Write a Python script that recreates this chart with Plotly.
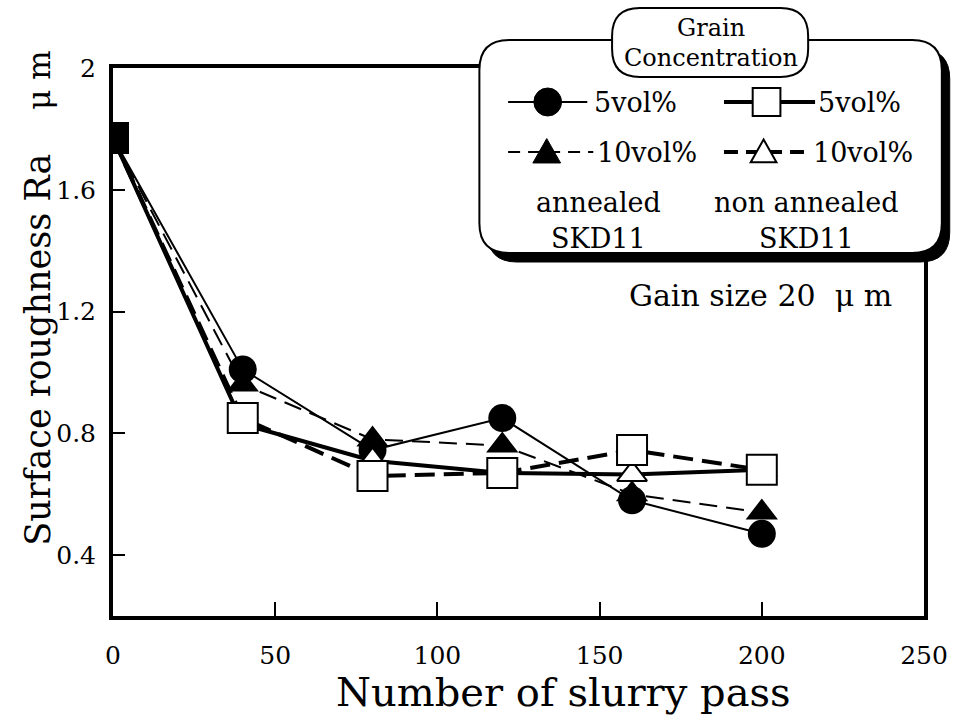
import plotly.graph_objects as go

# ---- data -----------------------------------------------------------------
passes = [0, 40, 80, 120, 160, 200]

annealed_5 = [1.77, 1.01, 0.745, 0.85, 0.58, 0.47]       # filled circle
annealed_10 = [1.77, 0.96, 0.78, 0.76, 0.60, 0.54]       # filled triangle
non_annealed_5 = [1.77, 0.85, 0.66, 0.67, 0.745, 0.68]   # open square
non_annealed_10 = [1.77, 0.83, 0.71, 0.67, 0.665, 0.68]  # open triangle

x_ticks = [0, 50, 100, 150, 200, 250]
x_tick_labels = ["0", "50", "100", "150", "200", "250"]
y_ticks = [0.4, 0.8, 1.2, 1.6, 2.0]
y_tick_labels = ["0.4", "0.8", "1.2", "1.6", "2"]

# ---- page geometry --------------------------------------------------------
W, H = 960, 728
L, R, T, B = 113, 28, 68, 112
PW = W - L - R
PH = H - T - B
FONT = "DejaVu Serif"


def px(x):
    """pixel x -> paper x"""
    return (x - L) / PW


def py(y):
    """pixel y (from top) -> paper y"""
    return (H - B - y) / PH


def rounded_rect(x0, y0, x1, y1, r):
    parts = [
        f"M{px(x0 + r)},{py(y0)}",
        f"L{px(x1 - r)},{py(y0)}",
        f"Q{px(x1)},{py(y0)} {px(x1)},{py(y0 + r)}",
        f"L{px(x1)},{py(y1 - r)}",
        f"Q{px(x1)},{py(y1)} {px(x1 - r)},{py(y1)}",
        f"L{px(x0 + r)},{py(y1)}",
        f"Q{px(x0)},{py(y1)} {px(x0)},{py(y1 - r)}",
        f"L{px(x0)},{py(y0 + r)}",
        f"Q{px(x0)},{py(y0)} {px(x0 + r)},{py(y0)}",
        "Z",
    ]
    return " ".join(parts)


def triangle(cx, cy, s):
    h = s * 0.87
    return (f"M{px(cx)},{py(cy - h * 0.55)} L{px(cx + s / 2)},{py(cy + h * 0.45)} "
            f"L{px(cx - s / 2)},{py(cy + h * 0.45)} Z")


fig = go.Figure()

# thin lines: annealed SKD11
fig.add_trace(go.Scatter(
    x=passes, y=annealed_5, mode="lines+markers",
    line=dict(color="black", width=2),
    marker=dict(symbol="circle", size=28, color="black"),
))
fig.add_trace(go.Scatter(
    x=passes, y=annealed_10, mode="lines+markers",
    line=dict(color="black", width=2, dash="18px,9px"),
    marker=dict(symbol="triangle-up", size=28, color="black"),
))
# thick lines: non annealed SKD11
fig.add_trace(go.Scatter(
    x=passes, y=non_annealed_10, mode="lines+markers",
    line=dict(color="black", width=4),
    marker=dict(symbol="triangle-up", size=26, color="white",
                line=dict(color="black", width=2)),
))
fig.add_trace(go.Scatter(
    x=passes, y=non_annealed_5, mode="lines+markers",
    line=dict(color="black", width=4, dash="20px,9px"),
    marker=dict(symbol="square", size=30,
                color=["black" if p == 0 else "white" for p in passes],
                line=dict(color="black", width=2)),
))

# ---- legend panel ---------------------------------------------------------
shapes = []
shapes.append(dict(type="path", xref="paper", yref="paper", layer="above",
                   path=rounded_rect(491, 49, 958, 262, 30),
                   fillcolor="black", line=dict(color="black", width=1)))
shapes.append(dict(type="path", xref="paper", yref="paper", layer="above",
                   path=rounded_rect(483, 40, 950, 253, 30),
                   fillcolor="white", line=dict(color="black", width=2)))
shapes.append(dict(type="path", xref="paper", yref="paper", layer="above",
                   path=rounded_rect(617, 8, 815, 77, 28),
                   fillcolor="white", line=dict(color="black", width=2)))


def key_line(x0, x1, y, width, dash="solid"):
    shapes.append(dict(type="line", xref="paper", yref="paper", layer="above",
                       x0=px(x0), x1=px(x1), y0=py(y), y1=py(y),
                       line=dict(color="black", width=width, dash=dash)))


# row 1
key_line(512, 592, 102, 2)
shapes.append(dict(type="circle", xref="paper", yref="paper", layer="above",
                   x0=px(538), x1=px(566), y0=py(116), y1=py(88),
                   fillcolor="black", line=dict(color="black", width=1)))
key_line(730, 822, 102, 4)
shapes.append(dict(type="rect", xref="paper", yref="paper", layer="above",
                   x0=px(759), x1=px(787), y0=py(116), y1=py(88),
                   fillcolor="white", line=dict(color="black", width=2)))
# row 2
key_line(512, 598, 152, 2, "12px,8px")
shapes.append(dict(type="path", xref="paper", yref="paper", layer="above",
                   path=triangle(551, 152, 28), fillcolor="black",
                   line=dict(color="black", width=1)))
key_line(730, 816, 152, 4, "14px,8px")
shapes.append(dict(type="path", xref="paper", yref="paper", layer="above",
                   path=triangle(770, 152, 26), fillcolor="white",
                   line=dict(color="black", width=2)))

annotations = []


def label(text, x, y, size, xanchor="center", angle=0):
    annotations.append(dict(text=text, x=px(x), y=py(y), xref="paper", yref="paper",
                            xanchor=xanchor, yanchor="middle", showarrow=False,
                            textangle=angle,
                            font=dict(family=FONT, size=size, color="black")))


label("Grain", 717, 28, 24)
label("Concentration", 717, 58, 24)
label("5vol%", 597, 103, 27, "left")
label("5vol%", 823, 103, 27, "left")
label("10vol%", 600, 152, 27, "left")
label("10vol%", 818, 152, 27, "left")
label("annealed", 603, 202, 27)
label("SKD11", 603, 238, 27)
label("non annealed", 813, 202, 27)
label("SKD11", 813, 238, 27)

label("Gain size 20\u00a0\u00a0μ\u00a0m", 632, 295, 30, "left")

# axis titles
label("Number of slurry pass", 568, 692, 40)
label("Surface roughness Ra", 37, 350, 35, angle=-90)
label("μ\u00a0m", 38, 80, 31, angle=-90)

fig.update_layout(
    width=W, height=H,
    margin=dict(l=L, r=R, t=T, b=B),
    paper_bgcolor="white", plot_bgcolor="white",
    showlegend=False,
    shapes=shapes, annotations=annotations,
    font=dict(family=FONT, color="black"),
)
fig.update_xaxes(
    range=[0, 250], tickvals=x_ticks, ticktext=x_tick_labels,
    showgrid=False, zeroline=False,
    showline=True, linecolor="black", linewidth=4, mirror=True,
    ticks="inside", ticklen=14, tickwidth=2, tickcolor="black",
    ticklabelstandoff=14, tickfont=dict(family=FONT, size=25, color="black"),
)
fig.update_yaxes(
    range=[0.2, 2.0], tickvals=y_ticks, ticktext=y_tick_labels,
    showgrid=False, zeroline=False,
    showline=True, linecolor="black", linewidth=4, mirror=True,
    ticks="inside", ticklen=12, tickwidth=2, tickcolor="black",
    ticklabelstandoff=8, tickfont=dict(family=FONT, size=25, color="black"),
)

fig.write_html("out.html")
